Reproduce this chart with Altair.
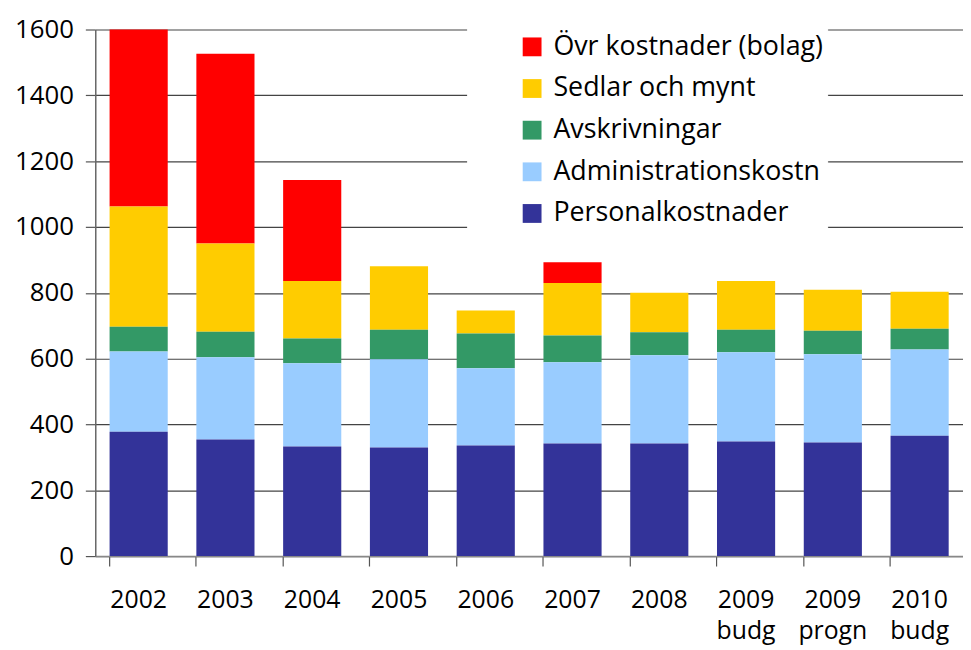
import altair as alt
import pandas as pd

years = ["2002", "2003", "2004", "2005", "2006", "2007", "2008",
         "2009 budg", "2009 progn", "2010 budg"]

series_names = ["Övr kostnader (bolag)", "Sedlar och mynt", "Avskrivningar",
                "Administrationskostn", "Personalkostnader"]
colors = ["#FF0000", "#FFCC00", "#339966", "#99CCFF", "#333399"]

personal = [378, 354, 333, 330, 336, 342, 342, 348, 345, 366]
admin = [244, 250, 253, 268, 235, 247, 268, 271, 268, 262]
avskr = [75, 78, 75, 90, 105, 81, 70, 69, 72, 63]
sedlar = [365, 268, 175, 193, 70, 160, 120, 148, 124, 112]
ovr = [538, 576, 307, 0, 0, 63, 0, 0, 0, 0]

series_values = [ovr, sedlar, avskr, admin, personal]

rows = []
for s_idx, (name, vals) in enumerate(zip(series_names, series_values)):
    for y, v in zip(years, vals):
        rows.append({"year": y, "series": name, "value": v, "order": 4 - s_idx})
df = pd.DataFrame(rows)

FONT = "Open Sans"

chart = alt.Chart(df).mark_bar().encode(
    x=alt.X("year:N", sort=years, title=None,
            scale=alt.Scale(paddingInner=0.33, paddingOuter=0.165),
            axis=alt.Axis(labelAngle=0, labelFontSize=25, labelFont=FONT,
                          labelColor="#000000", labelExpr="split(datum.label, ' ')",
                          labelLineHeight=31, labelPadding=34, labelBaseline="middle",
                          tickSize=10, tickColor="#555555", tickWidth=1.2,
                          bandPosition=0, domainColor="#888888", domainWidth=1.5,
                          grid=False)),
    y=alt.Y("value:Q", stack="zero", title=None,
            scale=alt.Scale(domain=[0, 1600], nice=False),
            axis=alt.Axis(values=list(range(0, 1601, 200)), format="d",
                          labelFontSize=26,
                          labelFont=FONT, labelColor="#000000", labelPadding=12,
                          tickSize=10, tickColor="#555555", tickWidth=1.2,
                          domainColor="#666666", domainWidth=1.5,
                          grid=True, gridColor="#444444", gridWidth=1.2)),
    color=alt.Color("series:N", sort=series_names,
                    scale=alt.Scale(domain=series_names, range=colors),
                    legend=alt.Legend(title="\u00a0", titleFontSize=14, titlePadding=0,
                                      orient="none", legendX=375, legendY=-14,
                                      symbolType="square", symbolSize=360,
                                      symbolStrokeWidth=0, symbolOffset=48,
                                      labelFontSize=27, labelFont=FONT,
                                      labelColor="#000000", labelOffset=8,
                                      labelLimit=0,
                                      rowPadding=14, padding=4,
                                      fillColor="#FFFFFF", strokeColor="#FFFFFF")),
    order=alt.Order("order:Q", sort="ascending"),
).properties(
    width=875, height=531,
    autosize=alt.AutoSizeParams(type="none"),
    padding={"left": 88, "top": 19, "right": 0, "bottom": 92},
    background="#FFFFFF",
).configure_view(stroke=None)

chart.save("out.html", embed_options={"renderer": "svg", "actions": False})
